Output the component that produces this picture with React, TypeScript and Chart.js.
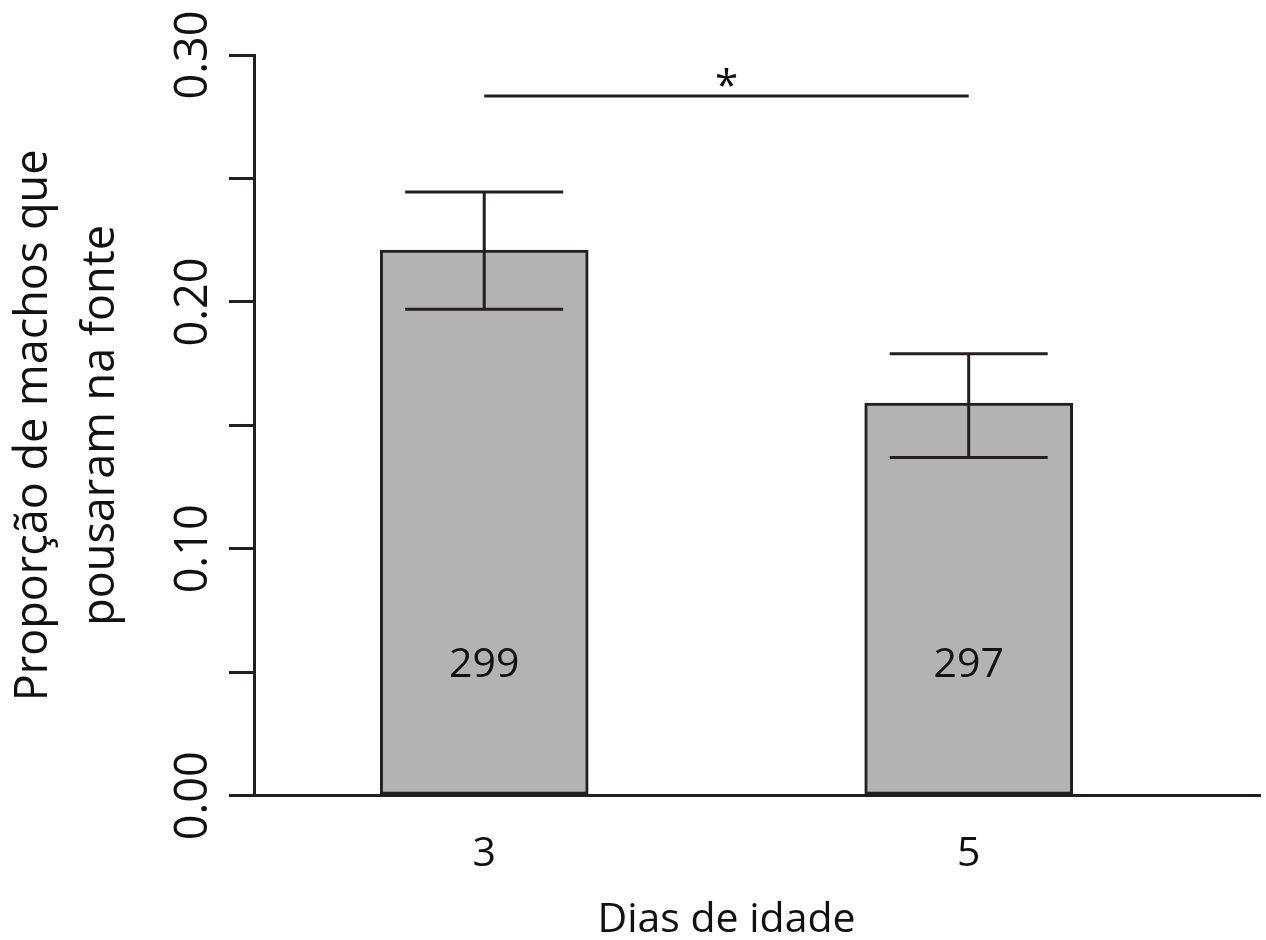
import React, { useEffect, useRef } from 'react';
import { Chart, registerables } from 'chart.js';

Chart.register(...registerables);

// ---- data ----
const days = [3, 5];
const dayLabels = ['3', '5'];
const proportions = [0.221, 0.159];
const errorLow = [0.197, 0.137];
const errorHigh = [0.2445, 0.179];
const sampleSizes = [299, 297];
const yTickValues = [0, 0.05, 0.1, 0.15, 0.2, 0.25, 0.3];
const yLabelledTicks = [0, 0.1, 0.2, 0.3];
const sigFrom = 3;
const sigTo = 5;
const sigLineValue = 0.2834;
const sigMarkValue = 0.2907;
const sigMark = '*';
const sampleLabelValue = 0.0541;
const xTitle = 'Dias de idade';
const yTitle = ['Proporção de machos que', 'pousaram na fonte'];

const INK = '#231f20';
const TEXT = '#111111';
const FONT = '"Open Sans", "Noto Sans", sans-serif';
const CAP = 158;

const annotations = {
  id: 'annotations',
  afterDatasetsDraw(chart: any) {
    const { ctx, scales } = chart;
    const x = scales.x;
    const y = scales.y;
    ctx.save();
    ctx.strokeStyle = INK;
    ctx.lineWidth = 3;
    ctx.lineCap = 'butt';
    days.forEach((d, i) => {
      const px = x.getPixelForValue(d);
      const top = y.getPixelForValue(errorHigh[i]);
      const bot = y.getPixelForValue(errorLow[i]);
      ctx.beginPath();
      ctx.moveTo(px, top);
      ctx.lineTo(px, bot);
      ctx.moveTo(px - CAP / 2, top);
      ctx.lineTo(px + CAP / 2, top);
      ctx.moveTo(px - CAP / 2, bot);
      ctx.lineTo(px + CAP / 2, bot);
      ctx.stroke();

      ctx.fillStyle = TEXT;
      ctx.font = `41px ${FONT}`;
      ctx.textAlign = 'center';
      ctx.textBaseline = 'alphabetic';
      const label = String(sampleSizes[i]);
      const m = ctx.measureText(label);
      const cy = y.getPixelForValue(sampleLabelValue);
      ctx.fillText(label, px, cy + (m.actualBoundingBoxAscent - m.actualBoundingBoxDescent) / 2);
    });

    // significance bracket
    const x1 = x.getPixelForValue(sigFrom);
    const x2 = x.getPixelForValue(sigTo);
    const ly = y.getPixelForValue(sigLineValue);
    ctx.beginPath();
    ctx.moveTo(x1, ly);
    ctx.lineTo(x2, ly);
    ctx.stroke();
    ctx.fillStyle = TEXT;
    ctx.font = `42px ${FONT}`;
    ctx.textAlign = 'center';
    ctx.textBaseline = 'alphabetic';
    const mm = ctx.measureText(sigMark);
    const my = y.getPixelForValue(sigMarkValue);
    ctx.fillText(sigMark, (x1 + x2) / 2, my + (mm.actualBoundingBoxAscent - mm.actualBoundingBoxDescent) / 2);

    // x axis title, centred between the two groups
    ctx.font = `41px ${FONT}`;
    const mt = ctx.measureText(xTitle);
    const ty = chart.height - 24;
    ctx.fillText(xTitle, (x1 + x2) / 2, ty + (mt.actualBoundingBoxAscent - mt.actualBoundingBoxDescent) / 2);
    ctx.restore();
  },
};

export default function App() {
  const canvasRef = useRef<HTMLCanvasElement | null>(null);

  useEffect(() => {
    if (!canvasRef.current) return;
    Chart.defaults.font.family = FONT;
    Chart.defaults.color = TEXT;
    const chart = new Chart(canvasRef.current, {
      type: 'bar',
      data: {
        datasets: [
          {
            data: days.map((d, i) => ({ x: d, y: proportions[i] })),
            backgroundColor: '#b3b3b3',
            borderColor: INK,
            borderWidth: 3,
            borderSkipped: false,
            barThickness: 208,
          },
        ],
      },
      options: {
        animation: false,
        responsive: true,
        maintainAspectRatio: false,
        devicePixelRatio: 1,
        layout: { padding: { top: 55, right: 6, left: 0, bottom: 27 } },
        plugins: {
          legend: { display: false },
          tooltip: { enabled: false },
        },
        scales: {
          x: {
            type: 'linear',
            offset: false,
            min: 2.0496,
            max: 6.2025,
            grid: { display: false, drawTicks: false },
            border: { display: true, color: INK, width: 3 },
            afterBuildTicks: (s: any) => {
              s.ticks = days.map((v) => ({ value: v }));
            },
            ticks: {
              autoSkip: false,
              padding: 34,
              color: TEXT,
              font: { size: 41, lineHeight: 1.2 },
              callback: (v: any) => {
                const i = days.indexOf(Number(v));
                return i >= 0 ? dayLabels[i] : '';
              },
            },
            title: { display: false },
          },
          y: {
            min: 0,
            max: 0.3,
            afterBuildTicks: (s: any) => {
              s.ticks = yTickValues.map((v) => ({ value: v }));
            },
            grid: {
              display: true,
              drawOnChartArea: false,
              drawTicks: true,
              tickLength: 25,
              color: INK,
              lineWidth: 3,
            },
            border: { display: true, color: INK, width: 3 },
            ticks: {
              autoSkip: false,
              minRotation: 90,
              maxRotation: 90,
              crossAlign: 'center',
              padding: -10,
              color: TEXT,
              font: { size: 45, lineHeight: 1.2 },
              callback: (v: any) => (yLabelledTicks.includes(Number(v)) ? Number(v).toFixed(2) : ''),
            },
            title: {
              display: true,
              text: yTitle,
              color: TEXT,
              font: { size: 45, lineHeight: 1.5 },
              padding: { top: 0, bottom: 60 },
            },
          },
        },
      },
      plugins: [annotations],
    } as any);
    return () => chart.destroy();
  }, []);

  return (
    <div style={{ position: 'fixed', left: 0, top: 0, width: 1266, height: 940, background: '#fff' }}>
      <canvas ref={canvasRef} />
    </div>
  );
}
